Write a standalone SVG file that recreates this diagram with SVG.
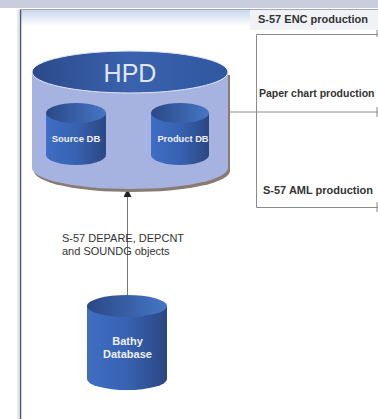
<svg xmlns="http://www.w3.org/2000/svg" width="378" height="419" viewBox="0 0 378 419">
<defs>
<style>
.lbl{font-family:"Liberation Sans",Arial,sans-serif;fill:#333;}
.b{font-weight:bold;}
.w{font-family:"Liberation Sans",Arial,sans-serif;font-weight:bold;fill:#eef0f6;text-anchor:middle;}
.ln{stroke:#8a8a8a;stroke-width:1;fill:none;}
.ar{stroke:#555;stroke-width:1.2;fill:none;}
</style>
<linearGradient id="body" x1="0" y1="0" x2="1" y2="0">
<stop offset="0" stop-color="#3f6ec4"/>
<stop offset="0.5" stop-color="#3862b2"/>
<stop offset="1" stop-color="#2b4782"/>
</linearGradient>
<linearGradient id="top" x1="0" y1="0" x2="1" y2="0">
<stop offset="0" stop-color="#2a4886"/>
<stop offset="1" stop-color="#4676c6"/>
</linearGradient>
<linearGradient id="hpdtop" x1="0" y1="0" x2="1" y2="0">
<stop offset="0" stop-color="#2b4a8a"/>
<stop offset="0.5" stop-color="#3a62ae"/>
<stop offset="1" stop-color="#3058a0"/>
</linearGradient>
<linearGradient id="band" x1="0" y1="0" x2="0" y2="1">
<stop offset="0" stop-color="#c9d6ec"/>
<stop offset="1" stop-color="#ffffff"/>
</linearGradient>
<marker id="ah" markerWidth="8" markerHeight="8" refX="7" refY="4" orient="auto" markerUnits="userSpaceOnUse">
<path d="M0,0 L8,4 L0,8 Z" fill="#222"/>
</marker>
</defs>
<rect width="378" height="419" fill="#ffffff"/>
<g id="frame">
<rect x="0" y="0" width="378" height="8" fill="#c9cddd"/>
<rect x="20" y="10" width="230" height="16" fill="url(#band)"/>
<rect x="250" y="9" width="128" height="21" fill="#f1f2f5"/>
<line x1="18" y1="10" x2="18" y2="419" stroke="#c8d2ec" stroke-width="1"/>
<line x1="20.5" y1="9" x2="20.5" y2="419" stroke="#4d5570" stroke-width="1.5"/>
<line x1="20" y1="9.5" x2="378" y2="9.5" stroke="#a0a6ba" stroke-width="1"/>
</g>
<g id="connectors">
<line class="ln" x1="230" y1="112" x2="378" y2="112"/>
<line class="ar" x1="148" y1="129" x2="106" y2="129" marker-end="url(#ah)"/>
<line class="ar" x1="107" y1="146" x2="150" y2="146" marker-end="url(#ah)"/>
<line x1="127.5" y1="295" x2="127.5" y2="190" stroke="#777" stroke-width="1" marker-end="url(#ah)"/>
</g>
<g id="hpd">
<path d="M34,75 L34,171 A98,21 0 0 0 230,171 L230,75 Z" fill="#8a7a74"/>
<path d="M32,72 L32,168 A98,21 0 0 0 228,168 L228,72 Z" fill="#a6b2df"/>
<ellipse cx="130" cy="72" rx="98" ry="21" fill="url(#hpdtop)" stroke="#e4e8f6" stroke-width="1"/>
<text x="130" y="82" font-family="Liberation Sans,Arial,sans-serif" font-size="25" fill="#dfe6f7" text-anchor="middle">HPD</text>
</g>
<g id="source-db">
<path d="M46,113 L46,155 A30,10 0 0 0 106,155 L106,113 Z" fill="url(#body)"/>
<ellipse cx="76" cy="113" rx="30" ry="10" fill="url(#top)"/>
<text class="w" x="76" y="142" font-size="9.5">Source DB</text>
</g>
<g id="product-db">
<path d="M151,113 L151,155 A29,10 0 0 0 209,155 L209,113 Z" fill="url(#body)"/>
<ellipse cx="180" cy="113" rx="29" ry="10" fill="url(#top)"/>
<text class="w" x="183" y="142" font-size="9.3">Product DB</text>
</g>
<g id="bathy">
<path d="M87,306 L87,379 A40,11 0 0 0 167,379 L167,306 Z" fill="url(#body)"/>
<ellipse cx="127" cy="306" rx="40" ry="11" fill="url(#top)"/>
<text class="w" x="127.5" y="345" font-size="11">Bathy</text>
<text class="w" x="127.5" y="358" font-size="11">Database</text>
</g>
<g id="edge-label">
<text class="lbl" x="62" y="242" font-size="11">S-57 DEPARE, DEPCNT</text>
<text class="lbl" x="62" y="255" font-size="11">and SOUNDG objects</text>
</g>
<g id="production">
<path class="ln" d="M378,34.5 H256.5 V207.5 H378"/>
<line class="ln" x1="377" y1="30" x2="377" y2="37"/>
<line class="ln" x1="377" y1="107" x2="377" y2="117"/>
<line class="ln" x1="377" y1="202" x2="377" y2="212"/>
<text class="lbl b" x="258" y="23" font-size="11">S-57 ENC production</text>
<text class="lbl b" x="259" y="97" font-size="10.5">Paper chart production</text>
<text class="lbl b" x="263" y="194" font-size="11">S-57 AML production</text>
</g>
</svg>
